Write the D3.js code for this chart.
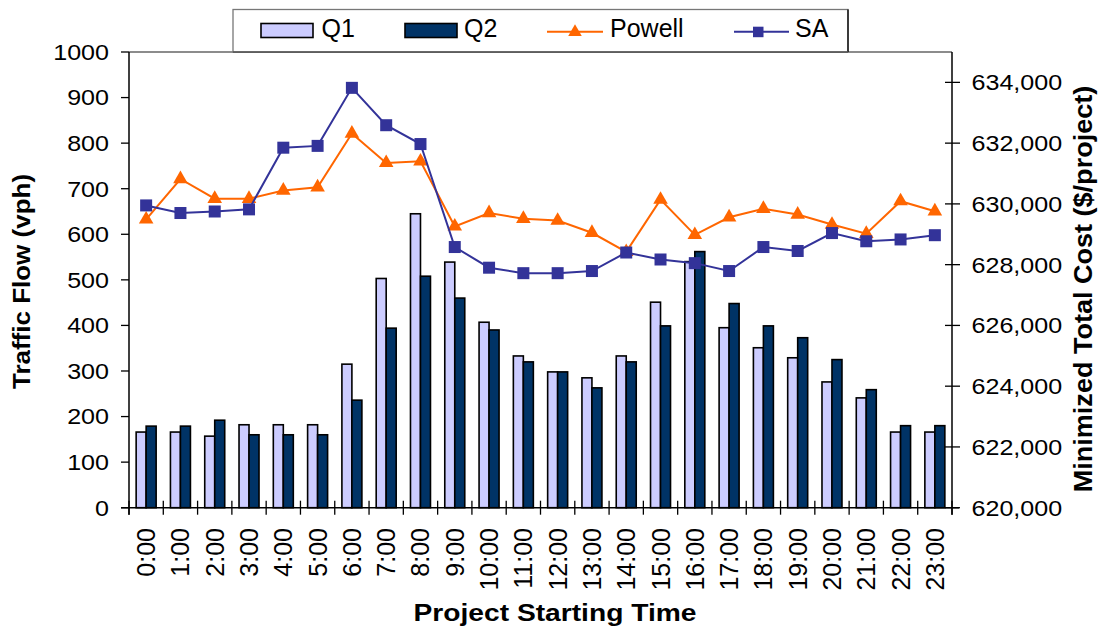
<!DOCTYPE html>
<html>
<head>
<meta charset="utf-8">
<script src="https://cdn.jsdelivr.net/npm/d3@7/dist/d3.min.js"></script>
<style>
  body { margin: 0; background: #fff; }
  svg { display: block; font-family: "Liberation Sans", Arial, sans-serif; }
</style>
</head>
<body>
<svg id="chart" width="1098" height="627"></svg>
<script>
// Hour of day at which the project starts
const hours = ["0:00","1:00","2:00","3:00","4:00","5:00","6:00","7:00","8:00","9:00","10:00","11:00",
               "12:00","13:00","14:00","15:00","16:00","17:00","18:00","19:00","20:00","21:00","22:00","23:00"];

// Traffic flow (vph), left axis
const q1 = [166,166,157,182,182,182,315,503,645,539,407,333,298,285,333,451,540,395,351,329,276,241,166,166];
const q2 = [179,179,192,160,160,160,236,394,508,460,390,320,298,263,320,399,562,448,399,373,325,259,180,180];

// Minimized total cost ($/project), right axis
const powell = [629490,630820,630170,630170,630440,630550,632320,631350,631400,629260,629700,629510,
                629450,629050,628420,630140,628980,629560,629840,629650,629320,629020,630090,629760];
const sa = [629950,629700,629750,629820,631850,631910,633820,632590,631970,628580,627900,627720,
            627720,627790,628400,628170,628050,627790,628580,628450,629040,628770,628830,628970];

// Axis ticks
const flowTicks = [0,100,200,300,400,500,600,700,800,900,1000];
const costTicks = [620000,622000,624000,626000,628000,630000,632000,634000];

const svg = d3.select("#chart");
const L = 129, R = 952, T = 52, B = 507.7;
const gap = 0.417;

const x0 = d3.scaleBand().domain(hours).range([L, R]).paddingInner(gap).paddingOuter(gap / 2);
const x1 = d3.scaleBand().domain(["Q1","Q2"]).range([0, x0.bandwidth()]);
const yL = d3.scaleLinear().domain([0, 1000]).range([B, T]);
const yR = d3.scaleLinear().domain([620000, 635000]).range([B, T]);
const cx = h => x0(h) + x0.bandwidth() / 2;

const colors = { Q1: "#CCCCFF", Q2: "#003366", Powell: "#FF6600", SA: "#333399" };

// Text helper with optional rotation and horizontal stretch
function label(g, x, y, str, o = {}) {
  return g.append("text")
    .attr("transform", `translate(${x},${y}) rotate(${o.rot || 0}) scale(${o.sx || 1},1)`)
    .attr("text-anchor", o.anchor || "start")
    .attr("dy", o.dy || 0)
    .attr("font-size", o.size || 22)
    .attr("font-weight", o.bold ? "bold" : "normal")
    .attr("fill", "#000")
    .text(str);
}

// Plot frame: top edge
svg.append("line").attr("x1", L).attr("x2", R).attr("y1", T).attr("y2", T)
  .attr("stroke", "#666").attr("stroke-width", 1.5);

// Bars
const groups = svg.append("g").selectAll("g").data(hours).join("g")
  .attr("transform", h => `translate(${x0(h)},0)`);
groups.append("rect")
  .attr("x", x1("Q1")).attr("width", x1.bandwidth())
  .attr("y", (h, i) => yL(q1[i])).attr("height", (h, i) => B - yL(q1[i]))
  .attr("fill", colors.Q1).attr("stroke", "#000").attr("stroke-width", 1.6);
groups.append("rect")
  .attr("x", x1("Q2")).attr("width", x1.bandwidth())
  .attr("y", (h, i) => yL(q2[i])).attr("height", (h, i) => B - yL(q2[i]))
  .attr("fill", colors.Q2).attr("stroke", "#000").attr("stroke-width", 1.6);

// Cost lines
const line = d3.line().x((d, i) => cx(hours[i])).y(d => yR(d));
svg.append("path").datum(powell).attr("d", line)
  .attr("fill", "none").attr("stroke", colors.Powell).attr("stroke-width", 2);
svg.append("g").selectAll("path").data(powell).join("path")
  .attr("d", d3.symbol(d3.symbolTriangle, 92))
  .attr("transform", (d, i) => `translate(${cx(hours[i])},${yR(d)})`)
  .attr("fill", colors.Powell);

svg.append("path").datum(sa).attr("d", line)
  .attr("fill", "none").attr("stroke", colors.SA).attr("stroke-width", 2);
svg.append("g").selectAll("rect").data(sa).join("rect")
  .attr("x", (d, i) => cx(hours[i]) - 6).attr("y", d => yR(d) - 6)
  .attr("width", 12).attr("height", 12)
  .attr("fill", colors.SA);

// Axes lines
const ax = svg.append("g").attr("stroke", "#000").attr("stroke-width", 1.5);
ax.append("line").attr("x1", L).attr("x2", L).attr("y1", T).attr("y2", B + 7);
ax.append("line").attr("x1", R).attr("x2", R).attr("y1", T).attr("y2", B + 7);
ax.append("line").attr("x1", L - 8).attr("x2", R + 7).attr("y1", B).attr("y2", B);

// Left axis ticks and labels
const gl = svg.append("g");
flowTicks.forEach(v => {
  gl.append("line").attr("x1", L - 8).attr("x2", L).attr("y1", yL(v)).attr("y2", yL(v))
    .attr("stroke", "#000").attr("stroke-width", 1.3);
  label(gl, 109, yL(v), String(v), { anchor: "end", dy: "0.36em", size: 22, sx: 1.14 });
});

// Right axis ticks and labels
const fmt = d3.format(",");
const gr = svg.append("g");
costTicks.forEach(v => {
  gr.append("line").attr("x1", R - 7).attr("x2", R + 8).attr("y1", yR(v)).attr("y2", yR(v))
    .attr("stroke", "#000").attr("stroke-width", 1.3);
  label(gr, 971.5, yR(v), fmt(v), { anchor: "start", dy: "0.36em", size: 22, sx: 1.14 });
});

// Category boundaries and labels
const gx = svg.append("g");
d3.range(hours.length + 1).forEach(i => {
  const xb = L + i * x0.step();
  gx.append("line").attr("x1", xb).attr("x2", xb).attr("y1", B - 7).attr("y2", B + 7)
    .attr("stroke", "#000").attr("stroke-width", 1.3);
});
hours.forEach(h => {
  label(gx, cx(h), 528, h, { anchor: "end", rot: -90, dy: "0.36em", size: 25 });
});

// Axis titles
label(svg, 30, 281.5, "Traffic Flow (vph)", { anchor: "middle", rot: -90, size: 23, bold: true, sx: 1.13 });
label(svg, 1092, 289, "Minimized Total Cost ($/project)", { anchor: "middle", rot: -90, size: 26, bold: true, sx: 1.04 });
label(svg, 555, 620.5, "Project Starting Time", { anchor: "middle", size: 23.5, bold: true, sx: 1.2 });

// Legend
const lg = svg.append("g");
lg.append("rect").attr("x", 233).attr("y", 9.5).attr("width", 615).attr("height", 42.5)
  .attr("fill", "#fff").attr("stroke", "#777").attr("stroke-width", 1.3);
lg.append("line").attr("x1", 848).attr("x2", 848).attr("y1", 9.5).attr("y2", 52)
  .attr("stroke", "#000").attr("stroke-width", 1.3);
lg.append("line").attr("x1", 233).attr("x2", 848).attr("y1", 52).attr("y2", 52)
  .attr("stroke", "#555").attr("stroke-width", 1.6);

lg.append("rect").attr("x", 261).attr("y", 23.5).attr("width", 52).attr("height", 14)
  .attr("fill", colors.Q1).attr("stroke", "#000").attr("stroke-width", 1.6);
label(lg, 321.5, 36.7, "Q1", { size: 25 });
lg.append("rect").attr("x", 405).attr("y", 23.5).attr("width", 52).attr("height", 14)
  .attr("fill", colors.Q2).attr("stroke", "#000").attr("stroke-width", 1.6);
label(lg, 464, 36.7, "Q2", { size: 25 });

lg.append("line").attr("x1", 547).attr("x2", 603).attr("y1", 31.7).attr("y2", 31.7)
  .attr("stroke", colors.Powell).attr("stroke-width", 2);
lg.append("path").attr("d", d3.symbol(d3.symbolTriangle, 80))
  .attr("transform", "translate(575,32)").attr("fill", colors.Powell);
label(lg, 610, 36.7, "Powell", { size: 25 });

lg.append("line").attr("x1", 734).attr("x2", 789).attr("y1", 31.7).attr("y2", 31.7)
  .attr("stroke", colors.SA).attr("stroke-width", 2);
lg.append("rect").attr("x", 753).attr("y", 26.7).attr("width", 10.5).attr("height", 10.5)
  .attr("fill", colors.SA);
label(lg, 795, 36.7, "SA", { size: 25 });
</script>
</body>
</html>
